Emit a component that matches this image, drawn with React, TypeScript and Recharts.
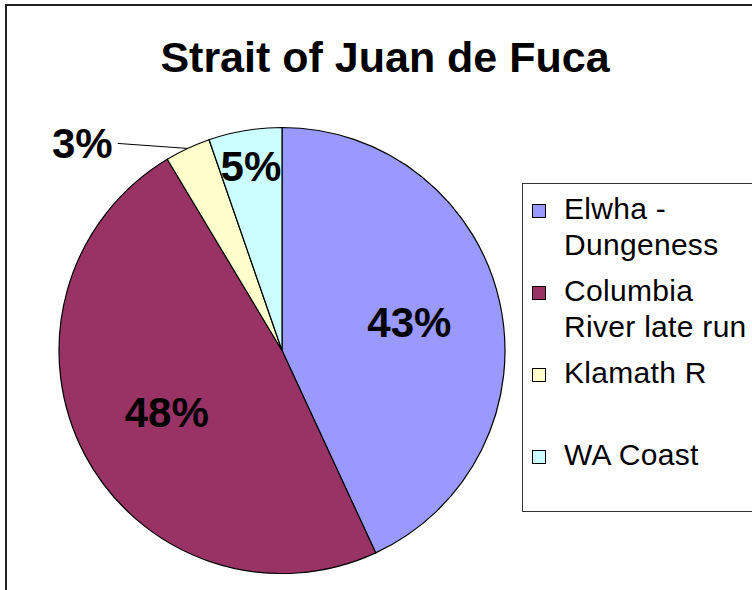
import { PieChart, Pie, Cell } from "recharts";

const stocks = ["Elwha - Dungeness", "Columbia River late run", "Klamath R", "WA Coast"];
const shares = [43.1, 48.3, 3.3, 5.3];
const colors = ["#9999FF", "#993366", "#FFFFCC", "#CCFFFF"];

const chartTitle = "Strait of Juan de Fuca";

const data = stocks.map((name, i) => ({ name, value: shares[i] }));

const FONT = "'Liberation Sans', Arial, Helvetica, sans-serif";
const RAD = Math.PI / 180;

function renderLabel(props: any) {
  const { cx, cy, midAngle, outerRadius, percent, index } = props;
  const text = `${Math.round(percent * 100)}%`;
  const cos = Math.cos(-midAngle * RAD);
  const sin = Math.sin(-midAngle * RAD);

  if (percent < 0.04) {
    // small slice: label outside with a leader line
    const ex = cx + outerRadius * cos;
    const ey = cy + outerRadius * sin;
    return (
      <g key={`lbl-${index}`}>
        <line x1={ex} y1={ey} x2={ex - 70} y2={ey - 5} stroke="#000" strokeWidth={1} />
        <text x={ex - 75} y={ey + 10} textAnchor="end" fontFamily={FONT} fontWeight="bold" fontSize={42} fill="#000">
          {text}
        </text>
      </g>
    );
  }

  const r = outerRadius * (percent > 0.2 ? 0.585 : 0.84);
  const x = cx + r * cos;
  const y = cy + r * sin;
  return (
    <text key={`lbl-${index}`} x={x} y={y + 15} textAnchor="middle" fontFamily={FONT} fontWeight="bold" fontSize={42} fill="#000">
      {text}
    </text>
  );
}

export default function App() {
  return (
    <div style={{ position: "fixed", left: 0, top: 0, width: 752, height: 590, overflow: "hidden", background: "#fff", fontFamily: FONT }}>
      {/* chart area frame, cut off at right and bottom */}
      <div style={{ position: "absolute", left: 5, top: 4, width: 800, height: 650, border: "2px solid #222" }} />

      <div style={{ position: "absolute", left: 9, top: 36, width: 752, textAlign: "center", fontSize: 43, lineHeight: "43px", fontWeight: "bold", color: "#000", whiteSpace: "nowrap" }}>
        {chartTitle}
      </div>

      <div style={{ position: "absolute", left: 0, top: 0 }}>
        <PieChart width={752} height={590} margin={{ top: 0, right: 0, bottom: 0, left: 0 }}>
          <Pie
            data={data}
            dataKey="value"
            nameKey="name"
            cx={282}
            cy={350.5}
            outerRadius={223}
            startAngle={90}
            endAngle={-270}
            stroke="#000"
            strokeWidth={1.2}
            label={renderLabel}
            labelLine={false}
            isAnimationActive={false}
          >
            {data.map((d, i) => (
              <Cell key={d.name} fill={colors[i]} />
            ))}
          </Pie>
        </PieChart>
      </div>

      <div style={{ position: "absolute", left: 522, top: 183, width: 300, height: 327, border: "1px solid #333", background: "#fff" }}>
        {stocks.map((name, i) => (
          <div key={name} style={{ position: "relative", height: 82 }}>
            <div style={{ position: "absolute", left: 9, top: 20, width: 12, height: 12, border: "1px solid #000", background: colors[i] }} />
            <div style={{ position: "absolute", left: 41, top: 7, width: 192, fontSize: 30, letterSpacing: 0.3, lineHeight: "36px", color: "#000" }}>
              {name}
            </div>
          </div>
        ))}
      </div>
    </div>
  );
}
